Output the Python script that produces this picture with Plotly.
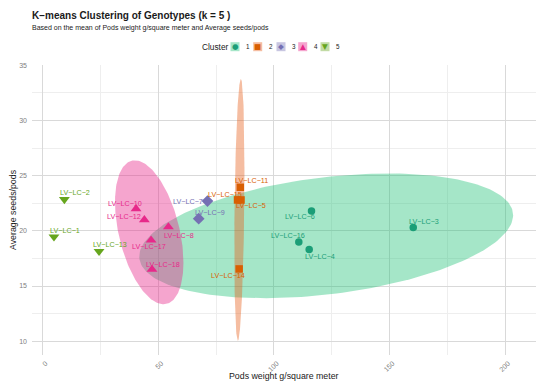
import numpy as np
import plotly.graph_objects as go

# ---------------- data ----------------
genotypes = ["LV-LC-1", "LV-LC-2", "LV-LC-3", "LV-LC-4", "LV-LC-5", "LV-LC-6",
             "LV-LC-7", "LV-LC-8", "LV-LC-9", "LV-LC-10", "LV-LC-11", "LV-LC-12",
             "LV-LC-13", "LV-LC-14", "LV-LC-15", "LV-LC-16", "LV-LC-17", "LV-LC-18"]
pods_weight = [4.9, 9.4, 160.3, 115.3, 85.8, 116.3,
               71.3, 54.4, 67.5, 40.4, 85.5, 44.0,
               24.4, 85.0, 84.3, 110.8, 46.9, 47.3]
seeds_per_pod = [19.46, 22.85, 20.3, 18.3, 22.8, 21.8,
                 22.7, 20.35, 21.1, 22.0, 23.95, 21.0,
                 18.15, 16.55, 22.8, 19.0, 19.15, 16.5]
cluster = ["5", "5", "1", "1", "2", "1",
           "3", "4", "3", "4", "2", "4",
           "5", "2", "2", "1", "4", "4"]
cluster_levels = ["1", "2", "3", "4", "5"]

# confidence ellipses (centre, half-extent in x / y, correlation)
ell_cluster = ["1", "2", "4"]
ell_cx = [122.65, 85.1, 46.1]
ell_cy = [19.55, 21.9, 19.87]
ell_rx = [80.85, 2.2, 14.8]
ell_ry = [5.65, 11.85, 6.52]
ell_rho = [0.33, 0.30, -0.42]

x_ticks = [0, 50, 100, 150, 200]
y_ticks = [10, 15, 20, 25, 30, 35]

# ---------------- style ----------------
W, H = 550, 392
ML, MR, MT, MB = 32, 14, 65, 37
PW, PH = W - ML - MR, H - MT - MB
FONT = "Liberation Sans, Arial, sans-serif"
colors = {"1": "#1B9E77", "2": "#D95F02", "3": "#7570B3", "4": "#E7298A", "5": "#66A61E"}
fills = {"1": "rgba(30,192,118,0.40)", "2": "rgba(230,90,20,0.40)", "3": "rgba(117,112,179,0.40)",
         "4": "rgba(231,41,138,0.42)", "5": "rgba(102,166,30,0.40)"}
symbols = {"1": "circle", "2": "square", "3": "diamond", "4": "triangle-up", "5": "triangle-down"}
msize = {"1": 7.5, "2": 7.5, "3": 9, "4": 9.5, "5": 9.5}
glyphs = {"1": "●", "2": "■", "3": "◆", "4": "▲", "5": "▼"}
# label placement (pixel offsets from the point, like ggrepel output)
label_offset = {
    "LV-LC-1": (11, -6.7), "LV-LC-2": (11, -7), "LV-LC-3": (11, -6.3), "LV-LC-4": (11, 6.4),
    "LV-LC-5": (10, 5.7), "LV-LC-6": (-11.3, 6), "LV-LC-7": (-19, 0), "LV-LC-8": (11, 8.3),
    "LV-LC-9": (11.3, -6.4), "LV-LC-10": (-11, -5), "LV-LC-11": (11.4, -6.3),
    "LV-LC-12": (-20, -3.6), "LV-LC-13": (11, -7), "LV-LC-14": (-11, 6.7),
    "LV-LC-15": (-12.3, -5.3), "LV-LC-16": (-11, -6.3), "LV-LC-17": (-1.7, 6.7),
    "LV-LC-18": (10.7, -5.3)}

def px_x(p):
    return (p - ML) / PW

def px_y(p):
    return (H - MB - p) / PH

fig = go.Figure()

# ellipses
t = np.linspace(0, 2 * np.pi, 200)
for c, cx, cy, rx, ry, rho in zip(ell_cluster, ell_cx, ell_cy, ell_rx, ell_ry, ell_rho):
    ex = cx + rx * np.cos(t)
    ey = cy + ry * (rho * np.cos(t) + np.sqrt(1 - rho ** 2) * np.sin(t))
    fig.add_trace(go.Scatter(x=ex, y=ey, mode="lines", fill="toself", fillcolor=fills[c],
                             line=dict(width=0), hoverinfo="skip", showlegend=False))

# points
for c in cluster_levels:
    idx = [i for i, k in enumerate(cluster) if k == c]
    fig.add_trace(go.Scatter(
        x=[pods_weight[i] for i in idx], y=[seeds_per_pod[i] for i in idx],
        mode="markers", name=c, showlegend=False,
        text=[genotypes[i] for i in idx],
        marker=dict(symbol=symbols[c], size=msize[c], color=colors[c], line=dict(width=0))))

annotations = []
# point labels
for g, x, y, c in zip(genotypes, pods_weight, seeds_per_pod, cluster):
    dx, dy = label_offset[g]
    annotations.append(dict(x=x, y=y, xref="x", yref="y", text=g.replace("-", "−"),
                            showarrow=False, xshift=dx, yshift=-dy,
                            font=dict(family=FONT, size=7.2, color=colors[c])))

# titles
annotations.append(dict(x=px_x(30), y=px_y(15.5), xref="paper", yref="paper", xanchor="left",
                        yanchor="middle", showarrow=False,
                        text="<b>K−means Clustering of Genotypes (k = 5 )</b>",
                        font=dict(family=FONT, size=10, color="#1a1a1a")))
annotations.append(dict(x=px_x(30), y=px_y(28.2), xref="paper", yref="paper", xanchor="left",
                        yanchor="middle", showarrow=False,
                        text="Based on the mean of Pods weight g/square meter and Average seeds/pods",
                        font=dict(family=FONT, size=7, color="#1a1a1a")))
annotations.append(dict(x=0.5, y=px_y(375.5), xref="paper", yref="paper", xanchor="center",
                        yanchor="middle", showarrow=False, text="Pods weight g/square meter",
                        font=dict(family=FONT, size=8.8, color="#1a1a1a")))
annotations.append(dict(x=px_x(13), y=0.5, xref="paper", yref="paper", xanchor="center",
                        yanchor="middle", showarrow=False, text="Average seeds/pods", textangle=-90,
                        font=dict(family=FONT, size=8.8, color="#1a1a1a")))

# legend (drawn manually to match ggplot's compact key layout)
shapes = []
annotations.append(dict(x=px_x(200), y=px_y(46.7), xref="paper", yref="paper", xanchor="left",
                        yanchor="middle", showarrow=False, text="Cluster",
                        font=dict(family=FONT, size=8.3, color="#1a1a1a")))
key_x = [235, 257.7, 281, 302.7, 325]
for c, kx in zip(cluster_levels, key_x):
    shapes.append(dict(type="rect", xref="paper", yref="paper", xsizemode="pixel",
                       ysizemode="pixel", xanchor=px_x(kx), yanchor=px_y(46.7),
                       x0=-4.5, x1=4.5, y0=-4.5, y1=4.5, fillcolor=fills[c], line=dict(width=0),
                       layer="above"))
    annotations.append(dict(x=px_x(kx), y=px_y(46.7), xref="paper", yref="paper",
                            xanchor="center", yanchor="middle", showarrow=False,
                            text=glyphs[c],
                            font=dict(family="DejaVu Sans", size=7.5, color=colors[c])))
    annotations.append(dict(x=px_x(kx + 9), y=px_y(46.7), xref="paper", yref="paper",
                            xanchor="left", yanchor="middle", showarrow=False, text=c,
                            font=dict(family=FONT, size=6.3, color="#1a1a1a")))

fig.update_layout(
    width=W, height=H, margin=dict(l=ML, r=MR, t=MT, b=MB, autoexpand=False),
    paper_bgcolor="white", plot_bgcolor="white",
    showlegend=False, annotations=annotations, shapes=shapes,
    font=dict(family=FONT),
    xaxis=dict(range=[-4.6, 213.4], tickvals=x_ticks, ticktext=[str(v) for v in x_ticks],
               tickangle=-45, tickfont=dict(size=7, color="#808080"),
               showgrid=True, gridcolor="#D9D9D9", gridwidth=1.1, zeroline=False,
               showline=False, ticks="", ticklabelstandoff=2, ticklabelshift=3,
               minor=dict(dtick=25, tick0=0, showgrid=True, gridcolor="#EEEEEE", gridwidth=0.6),
               automargin=False, fixedrange=True),
    yaxis=dict(range=[8.75, 35.03], tickvals=y_ticks, ticktext=[str(v) for v in y_ticks],
               tickfont=dict(size=7, color="#808080"),
               showgrid=True, gridcolor="#D9D9D9", gridwidth=1.1, zeroline=False,
               showline=False, ticks="", ticklabelstandoff=4,
               minor=dict(dtick=2.5, tick0=0, showgrid=True, gridcolor="#EEEEEE", gridwidth=0.6),
               automargin=False, fixedrange=True),
)

fig.write_html("out.html", config={"displayModeBar": False},
               post_script="document.body.style.margin='0';")
